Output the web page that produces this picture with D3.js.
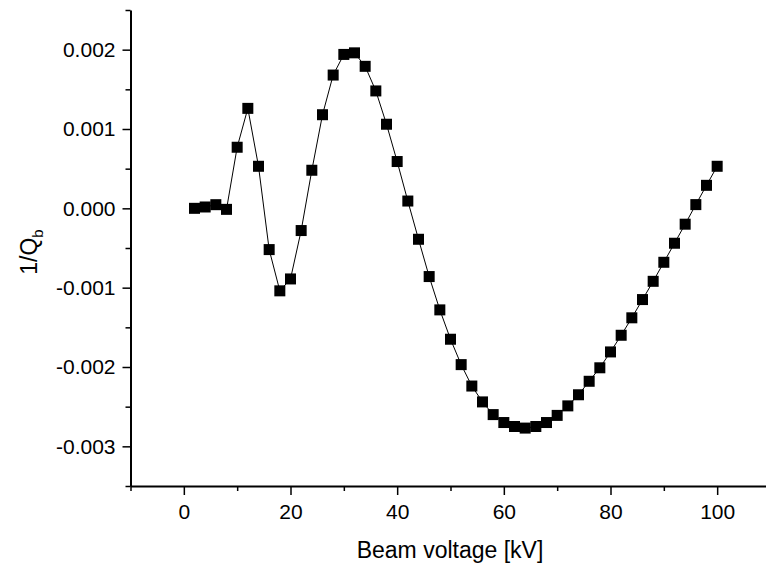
<!DOCTYPE html>
<html>
<head>
<meta charset="utf-8">
<script src="https://cdn.jsdelivr.net/npm/d3@7.9.0/dist/d3.min.js"></script>
<style>
  html, body { margin: 0; padding: 0; background: #fff; }
  svg { display: block; font-family: "Liberation Sans", Arial, sans-serif; }
</style>
</head>
<body>
<svg id="chart" width="766" height="574"></svg>
<script>
const voltages = [
  2, 4, 6, 8, 10, 12, 14, 16, 18, 20,
  22, 24, 26, 28, 30, 32, 34, 36, 38, 40,
  42, 44, 46, 48, 50, 52, 54, 56, 58, 60,
  62, 64, 66, 68, 70, 72, 74, 76, 78, 80,
  82, 84, 86, 88, 90, 92, 94, 96, 98, 100,
];
const invQ = [
  0.0, 0.000017, 0.000046, -0.000013, 0.00077, 0.00126, 0.00053, -0.00052, -0.00104, -0.00089,
  -0.00028, 0.00048, 0.00118, 0.00168, 0.00194, 0.00196, 0.00179, 0.00148, 0.00106, 0.00059,
  0.000092, -0.00039, -0.00086, -0.00128, -0.00165, -0.00197, -0.00224, -0.00244, -0.0026, -0.0027,
  -0.00275, -0.00277, -0.00275, -0.0027, -0.00261, -0.00249, -0.00235, -0.00218, -0.00201, -0.00181,
  -0.0016, -0.00138, -0.00115, -0.00092, -0.00068, -0.00044, -0.0002, 0.000047, 0.00029, 0.00053,
];
const xMajorTicks = [0, 20, 40, 60, 80, 100];
const xMinorTicks = [-10, 10, 30, 50, 70, 90, 110];
const yMajorTicks = [-0.003, -0.002, -0.001, 0, 0.001, 0.002];
const yMinorTicks = [-0.0035, -0.0025, -0.0015, -0.0005, 0.0005, 0.0015, 0.0025];

const points = voltages.map((v, i) => ({ v, q: invQ[i] }));

const svg = d3.select("#chart");
const x = d3.scaleLinear().domain([-10, 110]).range([130.5, 770.5]);
const y = d3.scaleLinear().domain([-0.0035, 0.0025]).range([486, 10]);

// plain hyphen for negatives, like the original plot
const yFormat = (d) => d3.format(".3f")(d).replace("\u2212", "-");

// minor ticks first, then the major axis on top
svg.append("g")
  .attr("transform", "translate(0,486)")
  .call(d3.axisBottom(x).tickValues(xMinorTicks).tickSize(5).tickFormat(""))
  .call((g) => g.select(".domain").remove())
  .call((g) => g.selectAll("line").attr("stroke-width", 1.5));

svg.append("g")
  .attr("transform", "translate(130.5,0)")
  .call(d3.axisLeft(y).tickValues(yMinorTicks).tickSize(5).tickFormat(""))
  .call((g) => g.select(".domain").remove())
  .call((g) => g.selectAll("line").attr("stroke-width", 1.5));

const xAxis = svg.append("g")
  .attr("transform", "translate(0,486)")
  .call(d3.axisBottom(x).tickValues(xMajorTicks).tickSize(9).tickSizeOuter(0).tickPadding(9).tickFormat(d3.format("d")));

const yAxis = svg.append("g")
  .attr("transform", "translate(130.5,0)")
  .call(d3.axisLeft(y).tickValues(yMajorTicks).tickSize(8).tickSizeOuter(0).tickPadding(7).tickFormat(yFormat));

[xAxis, yAxis].forEach((g) => {
  g.select(".domain").attr("stroke-width", 2);
  g.selectAll(".tick line").attr("stroke-width", 1.5);
  g.selectAll(".tick text").attr("font-size", 21).attr("fill", "#000");
});

const line = d3.line().x((d) => x(d.v)).y((d) => y(d.q));

svg.append("path")
  .datum(points)
  .attr("fill", "none")
  .attr("stroke", "#000")
  .attr("stroke-width", 1)
  .attr("d", line);

const size = 11;
svg.append("g")
  .selectAll("rect")
  .data(points)
  .join("rect")
  .attr("x", (d) => x(d.v) - size / 2)
  .attr("y", (d) => y(d.q) - size / 2)
  .attr("width", size)
  .attr("height", size)
  .attr("fill", "#000");

svg.append("text")
  .attr("x", 450)
  .attr("y", 558)
  .attr("text-anchor", "middle")
  .attr("font-size", 23)
  .text("Beam voltage [kV]");

const yLabel = svg.append("text")
  .attr("transform", "translate(37,252) rotate(-90)")
  .attr("text-anchor", "middle")
  .attr("font-size", 23);
yLabel.append("tspan").text("1/Q");
yLabel.append("tspan").attr("font-size", 15).attr("dy", 6).text("b");
</script>
</body>
</html>
